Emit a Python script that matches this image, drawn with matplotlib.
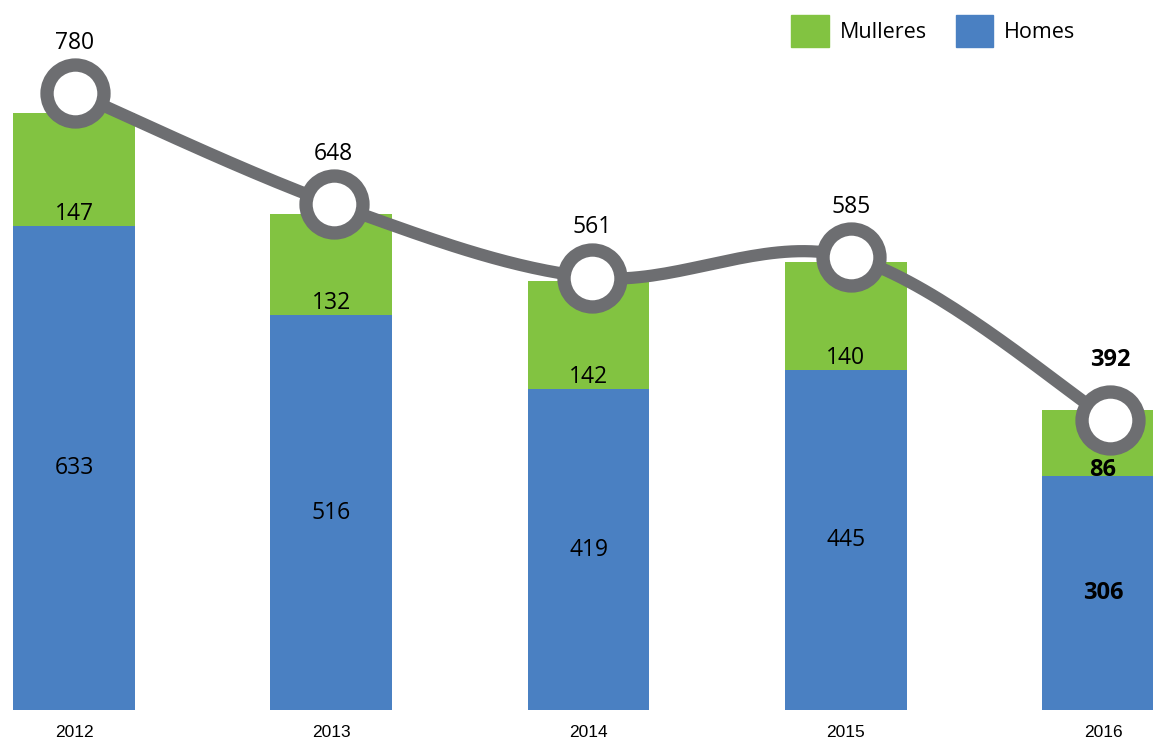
import numpy as np
import matplotlib
matplotlib.use("Agg")
import matplotlib.pyplot as plt
from matplotlib.patches import Patch

# Data
years = ["2012", "2013", "2014", "2015", "2016"]
homes = [633, 516, 419, 445, 306]
mulleres = [147, 132, 142, 140, 86]
totals = [780, 648, 561, 585, 392]
bold_last = [False, False, False, False, True]

green = "#82C341"
blue = "#4A80C2"
grey = "#6D6E71"
num_font = "Open Sans"

W, H = 1153, 740
fig = plt.figure(figsize=(W / 100, H / 100), dpi=100)

# bar axes (bottom of bars at y=710 px)
ax = fig.add_axes([0, 30 / H, 1, 710 / H])
x = np.arange(len(years))
ax.bar(x, homes, width=0.474, color=blue, zorder=2)
ax.bar(x, mulleres, bottom=homes, width=0.474, color=green, zorder=2)
ax.set_xlim(-74 / 257.25, (W - 74) / 257.25)
ax.set_ylim(0, 710 / 0.765)
ax.set_xticks(x)
ax.set_xticklabels(years, fontfamily="Liberation Sans", fontsize=12.5)
ax.tick_params(axis="x", length=0, pad=11)
ax.set_yticks([])
for s in ax.spines.values():
    s.set_visible(False)

# line on its own scale (overlay axes)
ax2 = fig.add_axes([0, 30 / H, 1, 710 / H], facecolor="none")
ax2.set_xlim(-75 / 258.75, (W - 75) / 258.75)
ax2.set_ylim((750.5 - 710) / 0.843, 750.5 / 0.843)
ax2.axis("off")

# Catmull-Rom smoothing between the total points
px = np.array(x, dtype=float)
py = np.array(totals, dtype=float)
P = np.column_stack([px, py])
P = np.vstack([P[0], P, P[-1]])
curve = []
t = np.linspace(0, 1, 40)[:, None]
for i in range(1, len(P) - 2):
    p0, p1, p2, p3 = P[i - 1], P[i], P[i + 1], P[i + 2]
    seg = 0.5 * ((2 * p1) + (-p0 + p2) * t + (2 * p0 - 5 * p1 + 4 * p2 - p3) * t ** 2
                 + (-p0 + 3 * p1 - 3 * p2 + p3) * t ** 3)
    curve.append(seg)
curve = np.vstack(curve)
ax2.plot(curve[:, 0], curve[:, 1], color=grey, lw=8.8, solid_capstyle="round", zorder=3)
ax2.plot(px, py, "o", ms=41, mfc="white", mec=grey, mew=9.6, zorder=4)

for i, tot in enumerate(totals):
    b = bold_last[i]
    fs = 17 if b else 16.5
    ax2.annotate(str(tot), (px[i], py[i]), xytext=(0, 39 if b else 32), textcoords="offset points",
                 ha="center", va="baseline", fontsize=fs, fontfamily=num_font,
                 fontweight="bold" if b else "normal", zorder=6)
    ax2.annotate(str(mulleres[i]), (x[i], homes[i]), xycoords=ax.transData,
                 xytext=(0, 0 if b else 4.3), textcoords="offset points",
                 ha="center", va="baseline", fontsize=fs, fontfamily=num_font,
                 fontweight="bold" if b else "normal", zorder=6)
    ax2.text(x[i], homes[i] / 2, str(homes[i]), transform=ax.transData,
             ha="center", va="center", fontsize=fs, fontfamily=num_font,
             fontweight="bold" if b else "normal", zorder=6)

handles = [Patch(color=green, label="Mulleres"), Patch(color=blue, label="Homes")]
fig.legend(handles=handles, loc="center left", bbox_to_anchor=(791 / W, 1 - 31 / H),
           ncol=2, frameon=False, borderpad=0, borderaxespad=0,
           handlelength=1.75, handleheight=1.95, handletextpad=0.5, columnspacing=1.35,
           prop={"family": num_font, "size": 15.5})

fig.savefig("out.png", dpi=100)
